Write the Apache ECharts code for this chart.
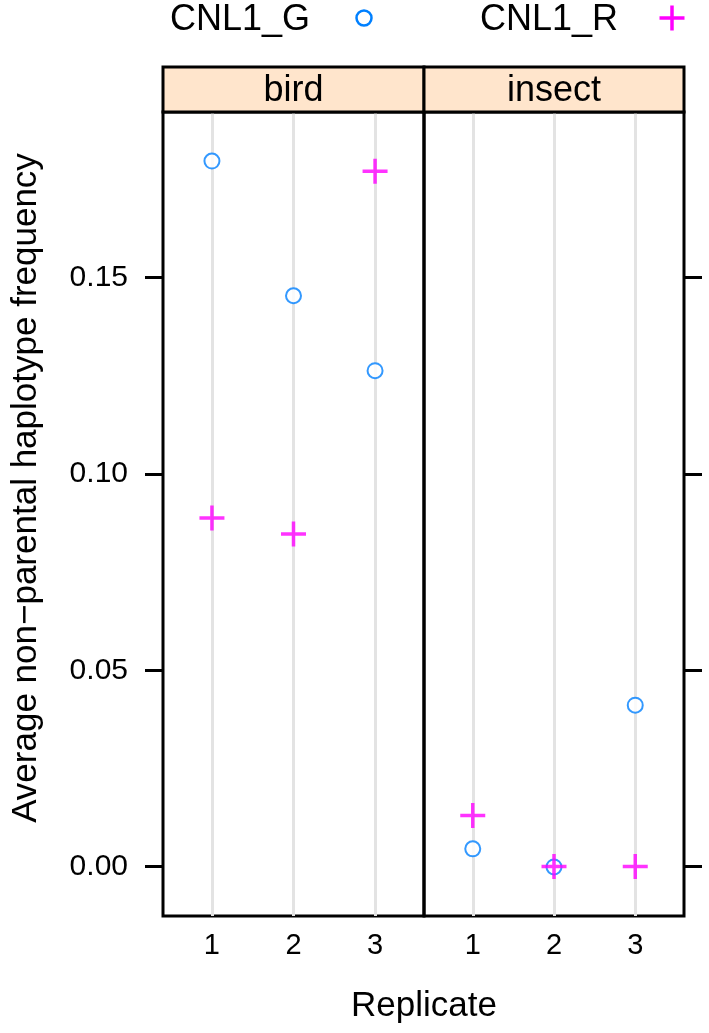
<!DOCTYPE html>
<html>
<head>
<meta charset="utf-8">
<script src="https://cdn.jsdelivr.net/npm/echarts@6/dist/echarts.min.js"></script>
<style>
  html, body { margin: 0; padding: 0; background: #fff; }
  #chart { width: 709px; height: 1033px; }
</style>
</head>
<body>
<div id="chart"></div>
<script>
// data
const replicates = [1, 2, 3];
const panels = ['bird', 'insect'];
const birdG = [0.1797, 0.1454, 0.1263];
const birdR = [0.0888, 0.0847, 0.1771];
const insectG = [0.0045, -0.0001, 0.0411];
const insectR = [0.0130, 0.0, 0.0];
const yTicks = [0, 0.05, 0.10, 0.15];

const FONT = '"Liberation Sans", Arial, sans-serif';
const BLUE = '#0080ff';
const MAGENTA = '#ff00ff';
const PLUS = 'path://M10.75,0h3.5v10.75h10.75v3.5h-10.75v10.75h-3.5v-10.75h-10.75v-3.5h10.75z';

const PANEL_TOP = 112, PANEL_H = 804;
const panelBoxes = [
  { left: 163, width: 261 },
  { left: 424, width: 260 },
];

const pairs = (vals) => replicates.map((r, i) => [r, vals[i]]);

const chart = echarts.init(document.getElementById('chart'));

function xAx(gi) {
  return {
    type: 'value', gridIndex: gi, min: 0.4, max: 3.6,
    axisLine: { show: false }, axisTick: { show: false }, splitLine: { show: false },
    axisLabel: { customValues: replicates, fontSize: 29, fontFamily: FONT, color: '#000', margin: 15 },
  };
}
function yAx(gi, pos, labels) {
  return {
    type: 'value', gridIndex: gi, position: pos, min: -0.0126, max: 0.1922,
    axisLine: { show: false }, splitLine: { show: false },
    axisTick: { show: true, customValues: yTicks, inside: false, length: 18, lineStyle: { color: '#000', width: 3 } },
    axisLabel: {
      show: labels, customValues: yTicks, formatter: (v) => v.toFixed(2),
      fontSize: 30, fontFamily: FONT, color: '#000', margin: 35,
    },
  };
}

const refLines = {
  silent: true, symbol: 'none', z: 1,
  label: { show: false },
  lineStyle: { color: '#e3e3e3', width: 3, type: 'solid' },
  data: replicates.map((r) => ({ xAxis: r })),
};

function gSeries(gi, vals) {
  return {
    name: 'CNL1_G', type: 'scatter', xAxisIndex: gi, yAxisIndex: gi, z: 3,
    symbol: 'emptyCircle', symbolSize: 15,
    itemStyle: { color: BLUE, borderColor: BLUE, borderWidth: 2.5 },
    data: pairs(vals), markLine: refLines,
  };
}
function rSeries(gi, vals) {
  return {
    name: 'CNL1_R', type: 'scatter', xAxisIndex: gi, yAxisIndex: gi, z: 4,
    symbol: PLUS, symbolSize: 25,
    itemStyle: { color: MAGENTA },
    data: pairs(vals),
  };
}

// strips and legend
const graphics = [];
panels.forEach((p, i) => {
  const b = panelBoxes[i];
  graphics.push({
    type: 'rect', shape: { x: b.left, y: 67, width: b.width, height: PANEL_TOP - 67 },
    style: { fill: '#ffe5cc', stroke: '#000', lineWidth: 3 }, z: 10,
  });
  graphics.push({
    type: 'text', x: b.left + b.width / 2, y: 91, z: 11,
    style: { text: p, font: '36px ' + FONT, fill: '#000', align: 'center', verticalAlign: 'middle' },
  });
});
graphics.push(
  { type: 'text', x: 170, y: 20, style: { text: 'CNL1_G', font: '36px ' + FONT, fill: '#000', verticalAlign: 'middle' } },
  { type: 'circle', shape: { cx: 364, cy: 18, r: 7.5 }, style: { fill: 'none', stroke: BLUE, lineWidth: 2.5 } },
  { type: 'text', x: 480, y: 20, style: { text: 'CNL1_R', font: '36px ' + FONT, fill: '#000', verticalAlign: 'middle' } },
  { type: 'rect', shape: { x: 659.5, y: 16.25, width: 25, height: 3.5 }, style: { fill: MAGENTA } },
  { type: 'rect', shape: { x: 670.25, y: 5.5, width: 3.5, height: 25 }, style: { fill: MAGENTA } },
  { type: 'text', x: 424, y: 1006, style: { text: 'Replicate', font: '35px ' + FONT, fill: '#000', align: 'center', verticalAlign: 'middle' } },
  {
    type: 'text', x: 26, y: 488, rotation: Math.PI / 2,
    style: { text: 'Average non\u2212parental haplotype frequency', font: '35px ' + FONT, fill: '#000', align: 'center', verticalAlign: 'middle' },
  }
);

chart.setOption({
  animation: false,
  grid: panelBoxes.map((b) => ({
    left: b.left, top: PANEL_TOP, width: b.width, height: PANEL_H,
    show: true, borderColor: '#000', borderWidth: 3, backgroundColor: 'transparent',
  })),
  xAxis: [xAx(0), xAx(1)],
  yAxis: [yAx(0, 'left', true), yAx(1, 'right', false)],
  series: [
    gSeries(0, birdG), rSeries(0, birdR),
    gSeries(1, insectG), rSeries(1, insectR),
  ],
  graphic: graphics,
});
</script>
</body>
</html>
